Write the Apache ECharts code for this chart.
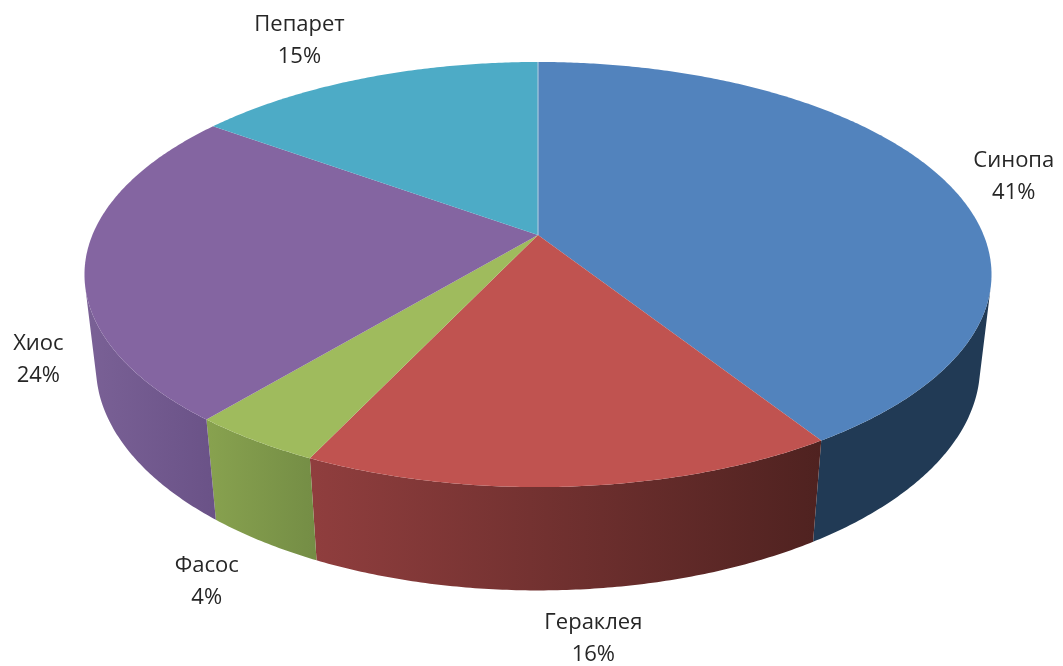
<!DOCTYPE html>
<html>
<head>
<meta charset="utf-8">
<style>html,body{margin:0;padding:0;background:#fff}#c{width:1063px;height:666px}</style>
<script src="https://cdn.jsdelivr.net/npm/echarts@6/dist/echarts.min.js"></script>
</head>
<body>
<div id="c"></div>
<script>
// Data
const categories = ['Синопа', 'Гераклея', 'Фасос', 'Хиос', 'Пепарет'];
const values = [41, 16, 4, 24, 15];

// Styles
const topColors = ['#5283bd', '#c05350', '#9fbb5d', '#8465a1', '#4dabc6'];
const wallStops = [
  ['#213a55', '#213a55'],
  ['#903e3e', '#4f2220'],
  ['#88a24f', '#748d45'],
  ['#7a6196', '#6a5287'],
  ['#3b8aa0', '#3b8aa0']
];
// Label offset from the slice's mid-arc point on the top face
const labelOffsets = [[69, -4], [21, 152], [-48, 141], [-47, 98], [-65, -37]];

// Perspective geometry of the tilted disc
const CX = 538, CY = 235, R = 445.6, H = 205.2, K = 0.186, DROP = 93, FAR = 0.025;
const total = values.reduce((a, b) => a + b, 0);
const starts = [];
values.reduce((acc, v, i) => { starts[i] = acc; return acc + v; }, 0);

function project(theta, depth) {
  const u = Math.sin(theta), v = -Math.cos(theta);
  const w = 1 - K * v + (depth ? FAR : 0);
  return [CX + R * u / w, CY + (H * v + (depth ? DROP : 0)) / w];
}
function sliceAngles(i, value) {
  const a0 = starts[i] / total * 2 * Math.PI;
  return [a0, a0 + value / total * 2 * Math.PI];
}
function arc(a0, a1) {
  const n = Math.max(2, Math.ceil((a1 - a0) / (Math.PI / 360)));
  const out = [];
  for (let j = 0; j <= n; j++) out.push(a0 + (a1 - a0) * j / n);
  return out;
}

function renderWall(params, api) {
  const i = params.dataIndex;
  const [a0, a1] = sliceAngles(i, api.value(0));
  const vis = arc(a0, a1).filter(t => {
    const p = project(t, 0), q = project(t + 0.001, 0), b = project(t, 1);
    return (q[0] - p[0]) * (b[1] - p[1]) - (q[1] - p[1]) * (b[0] - p[0]) < 0;
  });
  if (vis.length < 2) return { type: 'group', children: [] };
  const tops = vis.map(t => project(t, 0));
  const bottoms = vis.map(t => project(t, 1)).reverse();
  const pts = tops.concat(bottoms);
  const xs = pts.map(p => p[0]);
  const minX = Math.min.apply(null, xs), maxX = Math.max.apply(null, xs);
  // darker toward the right side of each wall
  const fill = new echarts.graphic.LinearGradient(minX, 0, maxX, 0, [
    { offset: 0, color: wallStops[i][0] },
    { offset: 1, color: wallStops[i][1] }
  ], true);
  return { type: 'polygon', shape: { points: pts }, style: { fill: fill } };
}

function renderTop(params, api) {
  const i = params.dataIndex;
  const [a0, a1] = sliceAngles(i, api.value(0));
  const pts = [[CX, CY]].concat(arc(a0, a1).map(t => project(t, 0)));
  const mid = project((a0 + a1) / 2, 0);
  const off = labelOffsets[i];
  const children = [
    { type: 'polygon', shape: { points: pts }, style: { fill: topColors[i] } },
    {
      type: 'text', x: mid[0] + off[0], y: mid[1] + off[1], z2: 5,
      style: {
        text: categories[i] + '\n' + api.value(0) + '%',
        fill: '#262626', font: '22px "Open Sans"',
        align: 'center', verticalAlign: 'middle', lineHeight: 32
      }
    }
  ];
  if (i === 0) {
    const s = project(a0, 0);
    children.push({
      type: 'line', z2: 4,
      shape: { x1: CX, y1: CY, x2: s[0], y2: s[1] },
      style: { stroke: '#a9c8de', lineWidth: 1.2 }
    });
  }
  return { type: 'group', children: children };
}

const chart = echarts.init(document.getElementById('c'), null, { renderer: 'canvas' });
const seriesData = values.map((v, i) => ({ name: categories[i], value: [v] }));
chart.setOption({
  animation: false,
  backgroundColor: '#fff',
  series: [
    { type: 'custom', coordinateSystem: 'none', renderItem: renderWall, data: seriesData, z: 1, silent: true },
    { type: 'custom', coordinateSystem: 'none', renderItem: renderTop, data: seriesData, z: 2, silent: true }
  ]
});
</script>
</body>
</html>
